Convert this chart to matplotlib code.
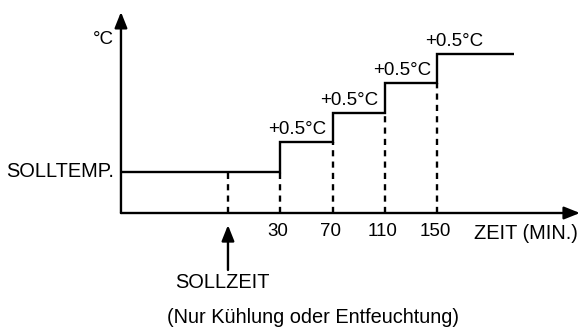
import matplotlib
matplotlib.use("Agg")
import matplotlib.pyplot as plt

# Schematic time axis: equally spaced marks, SOLLZEIT first
time_labels = ["30", "70", "110", "150"]
time_pos = [1, 2, 3, 4]
set_time_pos = 0
# Temperature offset above the set temperature (°C) after each step
temp_levels = [0.0, 0.5, 1.0, 1.5, 2.0]
step_labels = ["+0.5°C", "+0.5°C", "+0.5°C", "+0.5°C"]
line_end = 5.47

plt.rcParams["font.family"] = ["Liberation Sans", "DejaVu Sans"]
FS = 13.5      # numbers and step labels
FS_W = 14.4    # word labels
LW = 1.7

fig = plt.figure(figsize=(5.81, 3.27), dpi=100)
ax = fig.add_axes([0, 0, 1, 1])
ax.set_xlim(-4.359, 6.750)
ax.set_ylim(-2.627, 2.915)
ax.axis("off")

x_axis_y = -0.695
y_axis_x = -2.046

# axes with arrow heads
arrow = dict(arrowstyle="-|>,head_length=0.95,head_width=0.38",
             lw=LW, color="black", shrinkA=0, shrinkB=0, mutation_scale=10)
ax.annotate("", xy=(6.73, x_axis_y), xytext=(y_axis_x, x_axis_y), arrowprops=arrow)
ax.annotate("", xy=(y_axis_x, 2.712), xytext=(y_axis_x, x_axis_y), arrowprops=arrow)

# step curve of the set temperature
xs = [y_axis_x]
ys = [temp_levels[0]]
for p, lo, hi in zip(time_pos, temp_levels[:-1], temp_levels[1:]):
    xs += [p, p]
    ys += [lo, hi]
xs.append(line_end)
ys.append(temp_levels[-1])
ax.plot(xs, ys, color="black", lw=LW, solid_joinstyle="miter", solid_capstyle="butt")

# dashed guides down to the time axis
guide_x = [set_time_pos] + time_pos
guide_top = [temp_levels[0]] + temp_levels[:-1]
for gx, gt in zip(guide_x, guide_top):
    ax.plot([gx, gx], [x_axis_y, gt], color="black", lw=LW,
            linestyle=(0, (2.6, 2.2)), dash_capstyle="butt")

# step labels
for p, lvl, lab in zip(time_pos, temp_levels[1:], step_labels):
    ax.text(p + 0.325, lvl + 0.22, lab, ha="center", va="center", fontsize=FS)

# time tick labels
for p, lab in zip(time_pos, time_labels):
    ax.text(p - 0.045, -1.0, lab, ha="center", va="center", fontsize=FS)

ax.text(5.70, -1.035, "ZEIT (MIN.)", ha="center", va="center", fontsize=FS_W)
ax.text(-2.175, 0.0, "SOLLTEMP.", ha="right", va="center", fontsize=FS_W)
ax.text(-2.39, 2.24, "°C", ha="center", va="center", fontsize=FS)

# SOLLZEIT pointer
ax.annotate("", xy=(set_time_pos, -0.9), xytext=(set_time_pos, -1.66), arrowprops=arrow)
ax.text(-0.11, -1.88, "SOLLZEIT", ha="center", va="center", fontsize=FS_W)
ax.text(1.63, -2.46, "(Nur Kühlung oder Entfeuchtung)", ha="center", va="center", fontsize=FS_W)

fig.savefig("out.png", dpi=100)
